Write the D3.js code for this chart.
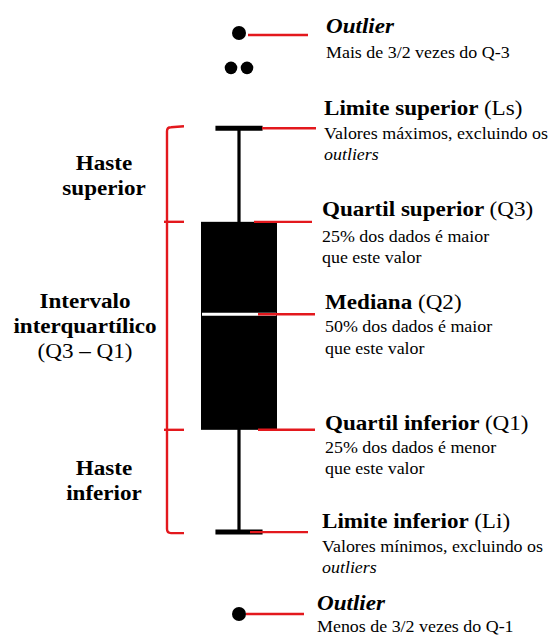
<!DOCTYPE html>
<html>
<head>
<meta charset="utf-8">
<script src="https://cdn.jsdelivr.net/npm/d3@7"></script>
<style>
  body { margin: 0; background: #fff; }
  svg { display: block; }
</style>
</head>
<body>
<div id="chart"></div>
<script>
// ---- data ----
const statKeys   = ["li", "q1", "q2", "q3", "ls"];
const statValues = [14.1, 31.7, 51.6, 67.5, 83.6];
const outlierValues = [100, 94, 94, 0];

const annotKeys   = ["outHigh", "ls", "q3", "q2", "q1", "li", "outLow"];
const annotValues = [100, 83.6, 67.5, 51.6, 31.7, 14.1, 0];
const annotTitleBold = ["Outlier", "Limite superior ", "Quartil superior ", "Mediana ", "Quartil inferior ", "Limite inferior ", "Outlier"];
const annotTitleReg  = ["", "(Ls)", "(Q3)", "(Q2)", "(Q1)", "(Li)", ""];
const annotLines = [
  ["Mais de 3/2 vezes do Q-3"],
  ["Valores máximos, excluindo os", "*outliers"],
  ["25% dos dados é maior", "que este valor"],
  ["50% dos dados é maior", "que este valor"],
  ["25% dos dados é menor", "que este valor"],
  ["Valores mínimos, excluindo os", "*outliers"],
  ["Menos de 3/2 vezes do Q-1"]
];

const groupLabels = [["Haste", "superior"], ["Intervalo", "interquartílico", "(Q3 – Q1)"], ["Haste", "inferior"]];
const groupRanges = [["q3", "ls"], ["q1", "q3"], ["li", "q1"]];

// ---- layout ----
const W = 559, H = 637;
const RED = "#e3181d";
const FONT = "\"Liberation Serif\", serif";
const SX = 1.1; // horizontal stretch of the text
// per annotation: label x, baseline shift, gap to first line, line step, red line start/end
const annotLayout = {
  outHigh: {x: 326, dy: 0,   gap: 25, step: 21, x1: 248, x2: 308},
  ls:      {x: 324, dy: -13, gap: 24, step: 21, x1: 262, x2: 316},
  q3:      {x: 322, dy: -6,  gap: 26, step: 21, x1: 254, x2: 312},
  q2:      {x: 325, dy: -5,  gap: 23, step: 22, x1: 258, x2: 315},
  q1:      {x: 325, dy: 0,   gap: 23, step: 21, x1: 258, x2: 315},
  li:      {x: 322, dy: -4,  gap: 24, step: 21, x1: 250, x2: 308},
  outLow:  {x: 317, dy: -4,  gap: 22, step: 21, x1: 246, x2: 304}
};
const groupCenters = [104, 85, 104];

const stats = {};
statKeys.forEach((k, i) => stats[k] = statValues[i]);

const svg = d3.select("#chart").append("svg")
  .attr("width", W).attr("height", H);

const y = d3.scaleLinear().domain([0, 100]).range([614, 33]);
const x = d3.scaleBand().domain(["dados"]).range([201, 277]).padding(0);
const cx = x("dados") + x.bandwidth() / 2;
const capW = x.bandwidth() * 0.62;

// whiskers
svg.append("line")
  .attr("x1", cx).attr("x2", cx)
  .attr("y1", y(stats.ls)).attr("y2", y(stats.li))
  .attr("stroke", "#000").attr("stroke-width", 3.2);

svg.selectAll(".cap")
  .data([stats.ls, stats.li])
  .join("line")
  .attr("class", "cap")
  .attr("x1", cx - capW / 2).attr("x2", cx + capW / 2)
  .attr("y1", d => y(d)).attr("y2", d => y(d))
  .attr("stroke", "#000").attr("stroke-width", 5);

// box
svg.append("rect")
  .attr("x", x("dados"))
  .attr("y", y(stats.q3))
  .attr("width", x.bandwidth())
  .attr("height", y(stats.q1) - y(stats.q3))
  .attr("fill", "#000");

// median
svg.append("line")
  .attr("x1", x("dados") + 1).attr("x2", x("dados") + x.bandwidth() - 1)
  .attr("y1", y(stats.q2)).attr("y2", y(stats.q2))
  .attr("stroke", "#fff").attr("stroke-width", 3);

// outliers, spread side by side when they share a value
const outlierPts = [];
d3.groups(outlierValues, d => d).forEach(([v, arr]) => {
  arr.forEach((d, i) => outlierPts.push({v: d, off: (i - (arr.length - 1) / 2) * 16, n: arr.length}));
});
svg.selectAll(".outlier")
  .data(outlierPts)
  .join("circle")
  .attr("class", "outlier")
  .attr("cx", d => cx + d.off)
  .attr("cy", d => y(d.v))
  .attr("r", d => d.n > 1 ? 6.3 : 7)
  .attr("fill", "#000");

// red pointer lines
svg.selectAll(".pointer")
  .data(annotKeys)
  .join("line")
  .attr("class", "pointer")
  .attr("x1", k => annotLayout[k].x1)
  .attr("x2", k => annotLayout[k].x2)
  .attr("y1", (k, i) => y(annotValues[i]) + (k === "outHigh" ? 2 : 0))
  .attr("y2", (k, i) => y(annotValues[i]) + (k === "outHigh" ? 2 : 0))
  .attr("stroke", RED).attr("stroke-width", 2.4);

// annotation texts
annotKeys.forEach((k, i) => {
  const L = annotLayout[k];
  const base = y(annotValues[i]) + L.dy;
  const isOut = k.startsWith("out");

  const t = svg.append("text")
    .attr("transform", `translate(${L.x},${base}) scale(${SX},1)`)
    .attr("font-family", FONT)
    .attr("font-size", 21);
  t.append("tspan")
    .attr("font-weight", "bold")
    .attr("font-style", isOut ? "italic" : "normal")
    .text(annotTitleBold[i]);
  if (annotTitleReg[i]) t.append("tspan").text(annotTitleReg[i]);

  annotLines[i].forEach((line, j) => {
    const ital = line.startsWith("*");
    svg.append("text")
      .attr("transform", `translate(${L.x},${base + L.gap + j * L.step}) scale(${SX},1)`)
      .attr("font-family", FONT)
      .attr("font-size", 16.3)
      .attr("font-style", ital ? "italic" : "normal")
      .text(ital ? line.slice(1) : line);
  });
});

// brackets on the left
const bx = 167, tick = 184;
const yTop = y(stats.ls) - 1, yBot = y(stats.li) + 1;
svg.append("path")
  .attr("d", `M${tick},${yTop - 1} L${bx + 4},${yTop} Q${bx},${yTop} ${bx},${yTop + 4} L${bx},${yBot - 4} Q${bx},${yBot} ${bx + 4},${yBot} L${tick},${yBot}`)
  .attr("fill", "none").attr("stroke", RED).attr("stroke-width", 2.4);
svg.selectAll(".junction")
  .data([stats.q3, stats.q1])
  .join("line")
  .attr("class", "junction")
  .attr("x1", bx - 3).attr("x2", tick)
  .attr("y1", d => y(d)).attr("y2", d => y(d))
  .attr("stroke", RED).attr("stroke-width", 2.4);

// group labels
groupLabels.forEach((lines, g) => {
  const mid = (y(stats[groupRanges[g][0]]) + y(stats[groupRanges[g][1]])) / 2;
  const lh = 25;
  lines.forEach((s, j) => {
    svg.append("text")
      .attr("transform", `translate(${groupCenters[g]},${mid + (j - (lines.length - 1) / 2) * lh + 7}) scale(${SX},1)`)
      .attr("text-anchor", "middle")
      .attr("font-family", FONT)
      .attr("font-size", 21)
      .attr("font-weight", j === 2 ? "normal" : "bold")
      .text(s);
  });
});
</script>
</body>
</html>
